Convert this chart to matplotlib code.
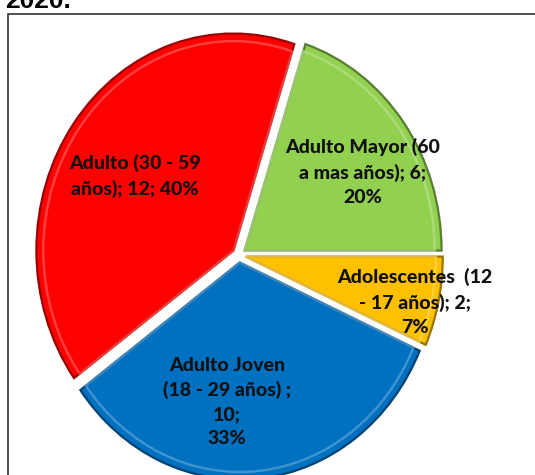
import numpy as np
import matplotlib
matplotlib.use("Agg")
import matplotlib.pyplot as plt
from matplotlib.patches import Rectangle
from matplotlib.colors import to_rgb

# data (clockwise, starting from the green slice)
groups = ["Adulto Mayor (60\na mas años)", "Adolescentes  (12\n- 17 años)",
          "Adulto Joven\n(18 - 29 años) ;\n", "Adulto (30 - 59\naños)"]
counts = [6, 2, 10, 12]
colors = ["#92D050", "#FFC000", "#0070C0", "#FF0000"]
title_tail = "2020."


def shade(c, k):
    r, g, b = to_rgb(c)
    if k < 1:
        return (r * k, g * k, b * k)
    return (r + (1 - r) * (k - 1), g + (1 - g) * (k - 1), b + (1 - b) * (k - 1))


W, H = 535, 475
fig = plt.figure(figsize=(W / 100, H / 100), dpi=100)
ax = fig.add_axes([0, 0, 1, 1])

# pie centre / radii in pixels (picture is a bit stretched vertically)
cx, cy, rx, ry = 239, 255, 197, 217

total = sum(counts)
explode = [0.035] * len(counts)
wedges, _ = ax.pie(counts, colors=colors, explode=explode, startangle=72,
                   counterclock=False, radius=1.0,
                   wedgeprops=dict(linewidth=2.2, edgecolor="white"))
for w, c in zip(wedges, colors):
    w.set_edgecolor(shade(c, 0.6))
    w.set_linewidth(1.6)

# light inner rim (bevel look)
inner, _ = ax.pie(counts, explode=explode, startangle=72, counterclock=False,
                  radius=0.965, wedgeprops=dict(fill=False, linewidth=1.8))
for w, c in zip(inner, colors):
    w.set_edgecolor(shade(c, 1.35))
    w.set_alpha(0.7)

ax.set_aspect("auto")
ax.set_xlim(-cx / rx, (W - cx) / rx)
ax.set_ylim((cy - H) / ry, cy / ry)
ax.axis("off")

# data labels: "category; value; percent"
labels = []
for g, n in zip(groups, counts):
    pct = "%d%%" % round(100 * n / total)
    if g.endswith("\n"):
        labels.append("%s%d;\n%s" % (g, n, pct))
    elif "Adulto (" in g:
        labels.append("%s; %d; %s" % (g, n, pct))
    else:
        labels.append("%s; %d;\n%s" % (g, n, pct))

label_px = [(363, 172), (415, 302), (227, 402), (135, 176)]
for lab, (px, py) in zip(labels, label_px):
    ax.text((px - cx) / rx, (cy - py) / ry, lab, ha="center", va="center",
            fontsize=14, fontweight="black", family="Lato",
            color="#111111", linespacing=1.5)

# chart frame (cut by the picture edges)
fig.patches.append(Rectangle((8 / W, -0.1), 1.2, (H - 14) / H + 0.1,
                             transform=fig.transFigure, fill=False,
                             edgecolor="#333333", linewidth=1.2, zorder=0))

# end of the title above, mostly cut off
fig.text(5 / W, 1 - 8 / H, title_tail, ha="left", va="baseline",
         fontsize=19, fontweight="bold", family="Liberation Sans")

fig.savefig("out.png", dpi=100)
